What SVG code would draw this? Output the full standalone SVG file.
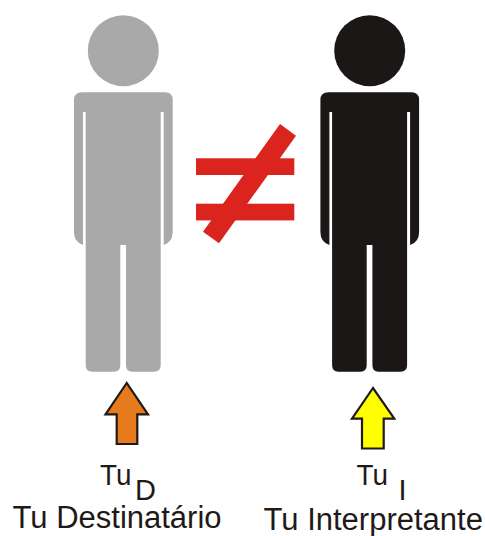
<svg xmlns="http://www.w3.org/2000/svg" width="485" height="536" viewBox="0 0 485 536">
<style>
.t{font-family:"Liberation Sans",Arial,sans-serif;font-size:29.5px;fill:#1f1a17}
.b{font-size:31px}
.s{font-size:29px}
.a{stroke:#1f1a17;stroke-width:2.2;stroke-linejoin:miter}
</style>
<defs>
<g id="fig">
<circle cx="123.3" cy="50.7" r="35.5"/>
<path fill-rule="evenodd" d="M82 92.3H165Q172.7 92.3 172.7 100V232Q172.7 242 163.7 245V112H160.7V365Q160.7 371.7 154 371.7H132Q126 371.7 126 365V245H120.3V365Q120.3 371.7 114 371.7H92Q85.7 371.7 85.7 365V112H83V245Q74 242 74 232V100Q74 92.3 82 92.3Z"/>
</g>
</defs>
<rect width="485" height="536" fill="#fff"/>
<g id="tu-destinatario" fill="#a9a9a9">
<use href="#fig"/>
</g>
<g id="tu-interpretante" fill="#1a1716">
<use href="#fig" x="246.4"/>
</g>
<g id="diferente" fill="#dc241f">
<rect x="196" y="158.3" width="98.3" height="16.7"/>
<rect x="196" y="203.7" width="98.3" height="16.7"/>
<polygon points="280,124 296,135.7 219,243.3 203,231.7"/>
</g>
<g id="connectors">
<polygon class="a" fill="#e57b1c" points="126.7,383 105.5,414.3 116.7,414.3 116.7,444 137.3,444 137.3,414.3 148,414.3"/>
<polygon class="a" fill="#ffff00" points="373,388 352,418.7 362,418.7 362,448.5 383.7,448.5 383.7,418.7 394.3,418.7"/>
</g>
<g id="labels">
<text class="t" x="100" y="485" textLength="31.5" lengthAdjust="spacingAndGlyphs">Tu</text>
<text class="t s" x="135" y="500">D</text>
<text class="t b" x="12.5" y="528">Tu Destinatário</text>
<text class="t" x="356.5" y="485" textLength="31.5" lengthAdjust="spacingAndGlyphs">Tu</text>
<text class="t s" x="398.5" y="500">I</text>
<text class="t b" x="263.5" y="530">Tu Interpretante</text>
</g>
</svg>
